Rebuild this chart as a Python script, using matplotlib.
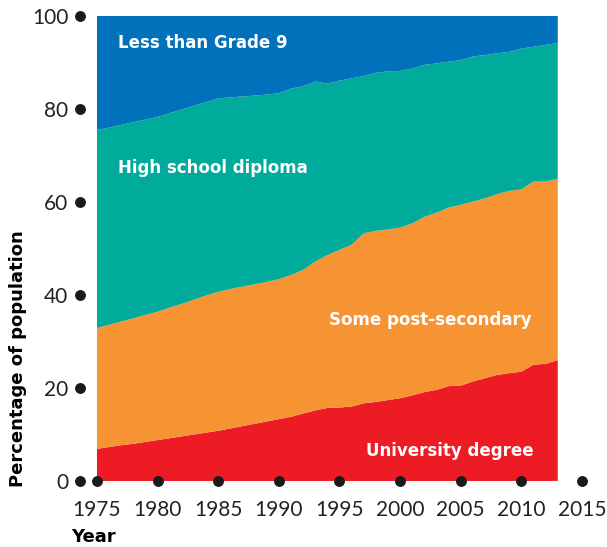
import numpy as np
import matplotlib.pyplot as plt

years = list(range(1975, 2014))

# shares of population (%)
university = [6.9, 7.3, 7.7, 8.0, 8.4, 8.8, 9.2, 9.6, 10.0, 10.4,
              10.8, 11.3, 11.8, 12.3, 12.8, 13.3, 13.8, 14.5, 15.2, 15.7,
              15.8, 16.0, 16.7, 17.0, 17.4, 17.8, 18.4, 19.1, 19.6, 20.4,
              20.5, 21.4, 22.1, 22.8, 23.2, 23.5, 25.0, 25.2, 26.0]
post_secondary = [26.0, 26.3, 26.6, 27.0, 27.3, 27.6, 28.1, 28.5, 29.0, 29.5,
                  29.9, 30.0, 30.0, 30.0, 30.0, 30.1, 30.5, 30.9, 32.0, 32.9,
                  33.9, 34.8, 36.6, 36.8, 36.7, 36.7, 37.0, 37.7, 38.1, 38.4,
                  38.9, 38.7, 38.7, 38.9, 39.2, 39.2, 39.4, 39.2, 39.0]
high_school = [42.6, 42.4, 42.3, 42.2, 42.0, 41.9, 41.8, 41.8, 41.7, 41.6,
               41.6, 41.2, 40.9, 40.6, 40.3, 40.0, 40.1, 39.5, 38.7, 36.9,
               36.4, 35.8, 33.8, 34.0, 34.0, 33.7, 33.3, 32.7, 32.1, 31.4,
               31.1, 31.2, 30.8, 30.3, 29.9, 30.3, 29.0, 29.4, 29.2]
less_grade9 = [24.5, 24.0, 23.4, 22.8, 22.3, 21.7, 20.9, 20.1, 19.3, 18.5,
               17.7, 17.5, 17.3, 17.1, 16.9, 16.6, 15.6, 15.1, 14.1, 14.5,
               13.9, 13.4, 12.9, 12.2, 11.9, 11.8, 11.3, 10.5, 10.2, 9.8,
               9.5, 8.7, 8.4, 8.0, 7.7, 7.0, 6.6, 6.2, 5.8]

labels = ["University degree", "Some post-secondary", "High school diploma", "Less than Grade 9"]
colors = ["#ED1C24", "#F69333", "#00AB9C", "#0071BA"]

xticks = [1975, 1980, 1985, 1990, 1995, 2000, 2005, 2010, 2015]
yticks = [0, 20, 40, 60, 80, 100]

fig = plt.figure(figsize=(6.07, 5.47), dpi=100)
ax = fig.add_axes([0.1318, 0.1207, 0.972 - 0.1318, 0.9707 - 0.1207])

ax.stackplot(years, university, post_secondary, high_school, less_grade9,
             colors=colors, linewidth=0)

ax.set_xlim(1973.6, 2015.66)
ax.set_ylim(0, 100)
for s in ax.spines.values():
    s.set_visible(False)

ax.set_xticks(xticks)
ax.set_yticks(yticks)
ax.tick_params(labelsize=15, colors="#222222", pad=10)
ax.tick_params(axis="y", pad=5)
for t in ax.xaxis.get_major_ticks() + ax.yaxis.get_major_ticks():
    t.tick1line.set_marker("o")
    t.tick1line.set_markersize(7)
    t.tick1line.set_markerfacecolor("#1a1a1a")
    t.tick1line.set_markeredgecolor("#1a1a1a")
    t.tick1line.set_clip_on(False)
for lab in ax.get_xticklabels() + ax.get_yticklabels():
    lab.set_family("Lato")

txt = dict(color="white", fontsize=12, fontweight="bold", va="center", ha="left")
ax.text(1976.7, 94.2, "Less than Grade 9", **txt)
ax.text(1976.7, 67.3, "High school diploma", **txt)
ax.text(1994.1, 34.6, "Some post-secondary", **txt)
ax.text(1997.2, 6.5, "University degree", **txt)

fig.text(0.03, 0.345, "Percentage of population", rotation=90, fontsize=13,
         fontweight="bold", ha="center", va="center")
fig.text(0.117, 0.018, "Year", fontsize=13, fontweight="bold", ha="left", va="center")

fig.savefig("out.png", dpi=100)
